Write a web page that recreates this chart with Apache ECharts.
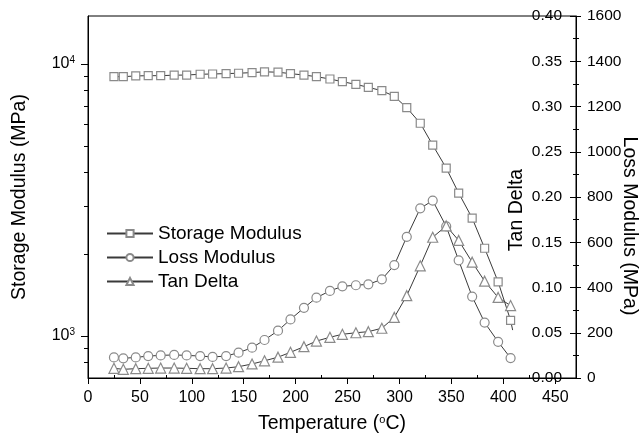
<!DOCTYPE html>
<html><head><meta charset="utf-8">
<script src="https://cdn.jsdelivr.net/npm/echarts@6/dist/echarts.min.js"></script>
<style>html,body{margin:0;padding:0;background:#fff}#c{width:640px;height:442px}</style>
</head><body><div id="c"></div>
<script>
const temperature = [25,34,46,58,70,83,95,108,120,133,145,158,170,183,195,208,220,233,245,258,270,283,295,307,320,332,345,357,370,382,395,407];
const storageModulus = [8975,8975,9030,9050,9050,9090,9100,9160,9180,9210,9240,9290,9350,9320,9210,9100,8975,8800,8600,8410,8200,7970,7600,6900,6050,5030,4140,3350,2710,2100,1580,1140];
const storageEnd = [409, 1050];
const lossModulus = [91,87,91,97,100,102,100,97,93,97,112,134,168,209,259,310,355,385,405,410,414,436,499,624,750,784,670,520,360,245,160,88];
const tanDelta = [0.0107,0.0096,0.0103,0.0107,0.011,0.011,0.0107,0.0103,0.0103,0.011,0.0125,0.0155,0.019,0.023,0.0284,0.0346,0.0408,0.045,0.0483,0.05,0.0512,0.055,0.067,0.091,0.124,0.1555,0.168,0.152,0.128,0.107,0.089,0.080];
const xTicks = [0,50,100,150,200,250,300,350,400,450];
const xMinorTicks = [25,75,125,175,225,275,325,375,425];
const storageMajorTicks = [1000,10000];
const storageMinorTicks = [800,900,2000,3000,4000,5000,6000,7000,8000,9000];

const FONT = "'Liberation Sans', Arial, sans-serif";
const lineCol = '#3a3a3a';
const markCol = '#8a8a8a';

const storageData = temperature.map((t,i)=>[t, storageModulus[i]]);
storageData.push({value: storageEnd, symbol: 'none'});

const chart = echarts.init(document.getElementById('c'), null, {renderer:'canvas'});
const sup = {fontSize: 10, fontFamily: FONT, color:'#000', verticalAlign:'bottom', padding:[0,0,8,0]};
chart.setOption({
  animation: false,
  backgroundColor: '#fff',
  textStyle: {fontFamily: FONT},
  grid: {left: 88, right: 64, top: 16, bottom: 64, show: true, borderColor: '#000', borderWidth: 1, backgroundColor: 'transparent'},
  legend: {
    left: 106, top: 224, orient: 'vertical', itemWidth: 46, itemHeight: 9, itemGap: 5, padding: 0,
    textStyle: {fontSize: 19, color: '#000', fontFamily: FONT},
    data: ['Storage Modulus','Loss Modulus','Tan Delta']
  },
  xAxis: [{
    type: 'value', min: 0, max: 470, interval: 50,
    axisLine: {show: true, lineStyle: {color: '#000', width: 1}},
    axisTick: {show: true, length: 6, customValues: xTicks, lineStyle: {color: '#000'}},
    axisLabel: {customValues: xTicks, fontSize: 16, color: '#000', margin: 12, fontFamily: FONT},
    splitLine: {show: false},
    name: '{a|Temperature (}{s|o}{a|C)}', nameLocation: 'middle', nameGap: 36,
    nameTextStyle: {rich: {a: {fontSize: 19.5, color: '#000', fontFamily: FONT}, s: {fontSize: 11, color:'#000', fontFamily: FONT, verticalAlign:'bottom', padding:[0,0,9,0]}}}
  },{
    type: 'value', min: 0, max: 470, interval: 50,
    axisLine: {show: false},
    axisTick: {show: true, length: 3, customValues: xMinorTicks, lineStyle: {color: '#000'}},
    axisLabel: {show: false}, splitLine: {show: false}
  }],
  yAxis: [{
    type: 'log', logBase: 10, min: 700, max: 15000, position: 'left',
    axisLine: {show: true, lineStyle: {color: '#000', width: 1}},
    axisTick: {show: true, length: 7, customValues: storageMajorTicks, lineStyle: {color: '#000'}},
    axisLabel: {customValues: storageMajorTicks, margin: 13, color:'#000',
      formatter: v => '{b|10}{s|' + Math.round(Math.log10(v)) + '}',
      rich: {b: {fontSize: 16, color: '#000', fontFamily: FONT}, s: sup}},
    splitLine: {show: false},
    name: 'Storage Modulus (MPa)', nameLocation: 'middle', nameGap: 58,
    nameTextStyle: {fontSize: 19.5, color: '#000', fontFamily: FONT}
  },{
    type: 'log', logBase: 10, min: 700, max: 15000, position: 'left',
    axisLine: {show: false},
    axisTick: {show: true, length: 4, customValues: storageMinorTicks, lineStyle: {color: '#000'}},
    axisLabel: {show: false}, splitLine: {show: false}
  },{
    type: 'value', min: 0, max: 0.4, interval: 0.05, position: 'right',
    axisLine: {show: true, lineStyle: {color: '#000', width: 1}},
    axisTick: {show: true, inside: true, length: 6, lineStyle: {color: '#000'}},
    minorTick: {show: true, splitNumber: 2, length: 3, lineStyle: {color: '#000'}},
    axisLabel: {inside: true, margin: 14, fontSize: 15.5, color: '#000', fontFamily: FONT, formatter: v => v.toFixed(2)},
    splitLine: {show: false}
  },{
    type: 'value', min: 0, max: 1600, interval: 200, position: 'right',
    axisLine: {show: false},
    axisTick: {show: true, length: 5, lineStyle: {color: '#000'}},
    minorTick: {show: true, splitNumber: 2, length: 3, lineStyle: {color: '#000'}},
    axisLabel: {margin: 11, fontSize: 15.5, color: '#000', fontFamily: FONT, formatter: v => String(Math.round(v))},
    splitLine: {show: false}
  }],
  graphic: [{
    type: 'text', x: 517, y: 210, rotation: Math.PI/2,
    style: {text: 'Tan Delta', fontSize: 19.5, fontFamily: FONT, fill: '#000', align: 'center', verticalAlign: 'middle'}
  },{
    type: 'text', x: 629, y: 226, rotation: -Math.PI/2,
    style: {text: 'Loss Modulus (MPa)', fontSize: 19.5, fontFamily: FONT, fill: '#000', align: 'center', verticalAlign: 'middle'}
  }],
  series: [{
    name: 'Storage Modulus', type: 'line', xAxisIndex: 0, yAxisIndex: 0, data: storageData,
    symbol: 'rect', symbolSize: 8,
    lineStyle: {color: lineCol, width: 1}, itemStyle: {color: '#fff', borderColor: markCol, borderWidth: 1.2}
  },{
    name: 'Loss Modulus', type: 'line', xAxisIndex: 0, yAxisIndex: 3,
    data: temperature.map((t,i)=>[t, lossModulus[i]]),
    symbol: 'circle', symbolSize: 9,
    lineStyle: {color: lineCol, width: 1}, itemStyle: {color: '#fff', borderColor: markCol, borderWidth: 1.2}
  },{
    name: 'Tan Delta', type: 'line', xAxisIndex: 0, yAxisIndex: 2,
    data: temperature.map((t,i)=>[t, tanDelta[i]]),
    symbol: 'triangle', symbolSize: 10,
    lineStyle: {color: lineCol, width: 1}, itemStyle: {color: '#fff', borderColor: markCol, borderWidth: 1.2}
  }]
});
</script></body></html>
